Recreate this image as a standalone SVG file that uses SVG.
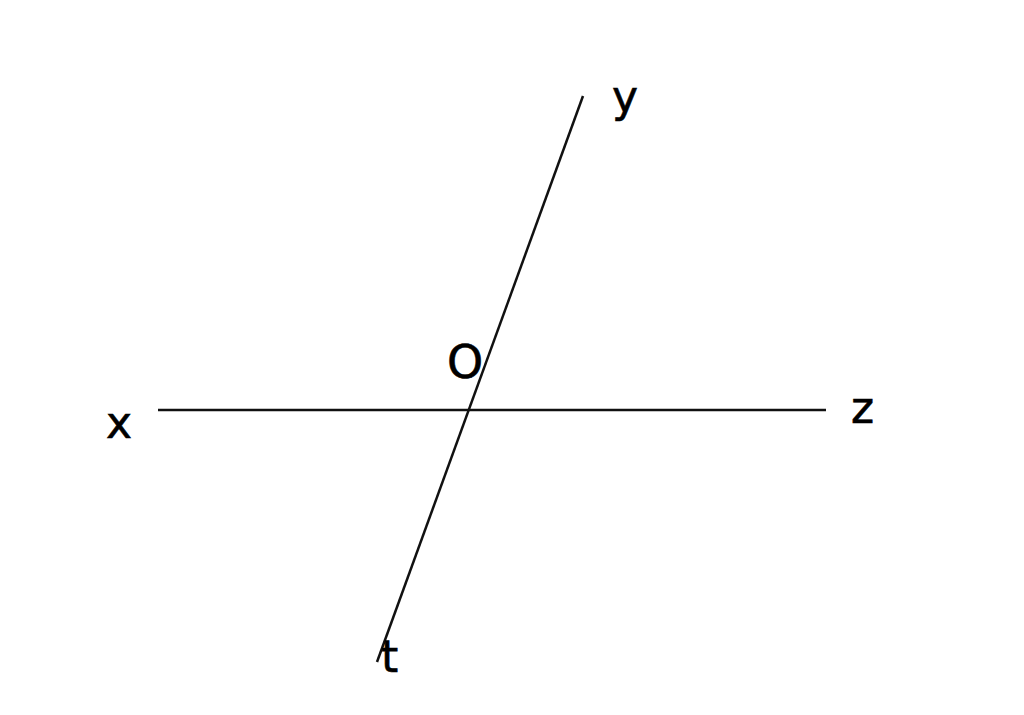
<svg xmlns="http://www.w3.org/2000/svg" width="1024" height="715" viewBox="0 0 1024 715">
<style>
.ln{stroke:#111;stroke-width:2.5;fill:none}
.lb{font-family:"DejaVu Sans",sans-serif;font-size:44px;fill:#000;stroke:#000;stroke-width:0.6}
</style>
<rect width="1024" height="715" fill="#fff"/>
<g id="connectors">
<line class="ln" x1="158" y1="410" x2="826" y2="410"/>
<line class="ln" x1="583" y1="96" x2="377" y2="662"/>
</g>
<g id="label-x"><text class="lb" x="106" y="438">x</text></g>
<g id="label-z"><text class="lb" x="851" y="423">z</text></g>
<g id="label-y"><text class="lb" x="612" y="112">y</text></g>
<g id="label-O"><text class="lb" x="447" y="378" style="font-size:46px">O</text></g>
<g id="label-t"><text class="lb" x="381" y="672">t</text></g>
</svg>
